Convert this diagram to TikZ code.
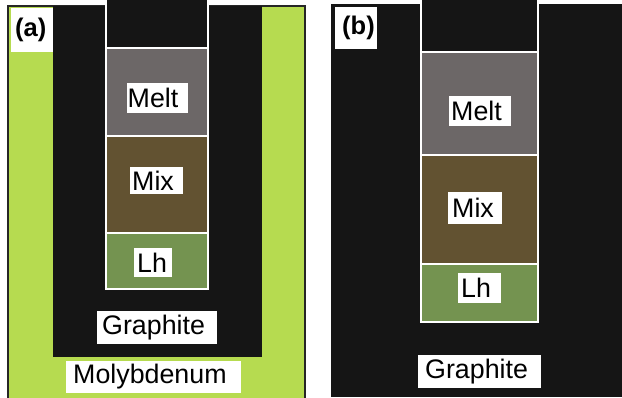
\documentclass[tikz,border=0pt]{standalone}
\usepackage{fontspec}
\setmainfont{Liberation Sans}
\definecolor{molyb}{HTML}{B6DB50}
\definecolor{graph}{HTML}{151515}
\definecolor{frame}{HTML}{262626}
\definecolor{meltc}{HTML}{6C6767}
\definecolor{mixc}{HTML}{625231}
\definecolor{lhc}{HTML}{749350}
\tikzset{
  lbl/.style={fill=white, inner xsep=0pt, inner ysep=0pt, align=left, anchor=west,
    font=\fontsize{26.8}{29}\selectfont},
  tag/.style={lbl, font=\bfseries\fontsize{25.5}{29}\selectfont},
  cell/.style={draw=white, line width=2pt},
}
\begin{document}
\begin{tikzpicture}[x=1pt,y=-1pt]
\useasboundingbox (0,0) rectangle (622,397);

% ---- panel (a): molybdenum shell around a graphite crucible ----
\fill[molyb] (8,6) rectangle (305,402);
\draw[frame, line width=2pt] (8,402) -- (8,6) -- (305,6) -- (305,402);
\fill[graph] (53,6) rectangle (262,357);
% sample column
\fill[graph] (106,0) rectangle (208,48);
\draw[cell] (106,0) -- (106,48) -- (208,48) -- (208,0);
\filldraw[cell, fill=meltc] (106,48) rectangle (208,136);
\filldraw[cell, fill=mixc] (106,136) rectangle (208,233);
\filldraw[cell, fill=lhc] (106,233) rectangle (208,289);

\node[tag, text width=42pt, minimum height=44pt] (tagA) at (11,30) {\hspace*{4pt}(a)};
\node[lbl, text width=61pt, minimum height=30pt] (meltA) at (127,98) {\hspace*{0.5pt}Melt};
\node[lbl, text width=53pt, minimum height=27pt] (mixA) at (130,180.5) {\hspace*{2pt}Mix};
\node[lbl, text width=38pt, minimum height=29pt] (lhA) at (134,262.5) {\hspace*{3pt}Lh};
\node[lbl, text width=120pt, minimum height=33pt] (graphA) at (97,327.5) {\hspace*{5pt}Graphite};
\node[lbl, text width=175pt, minimum height=32pt] (molyA) at (66,377) {\hspace*{7pt}Molybdenum};

% ---- panel (b): graphite crucible only ----
\fill[graph] (331,4) rectangle (622,397);
\fill[graph] (421,0) rectangle (538,52);
\draw[cell] (421,0) -- (421,52) -- (538,52) -- (538,0);
\filldraw[cell, fill=meltc] (421,52) rectangle (538,155);
\filldraw[cell, fill=mixc] (421,155) rectangle (538,264);
\filldraw[cell, fill=lhc] (421,264) rectangle (538,322);

\node[tag, text width=42pt, minimum height=42pt] (tagB) at (335,28) {\hspace*{7pt}(b)};
\node[lbl, text width=62pt, minimum height=30pt] (meltB) at (449,111) {\hspace*{2pt}Melt};
\node[lbl, text width=54pt, minimum height=32pt] (mixB) at (448,208) {\hspace*{4pt}Mix};
\node[lbl, text width=43pt, minimum height=30pt] (lhB) at (458,288) {\hspace*{3pt}Lh};
\node[lbl, text width=123pt, minimum height=33pt] (graphB) at (418,371.5) {\hspace*{7pt}Graphite};
\end{tikzpicture}
\end{document}
